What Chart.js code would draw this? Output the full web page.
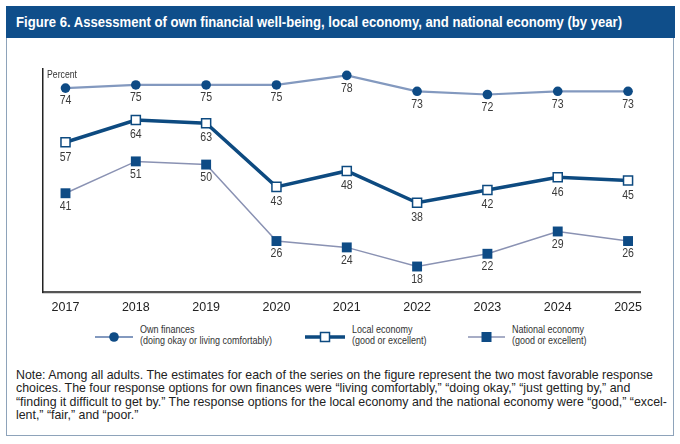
<!DOCTYPE html>
<html>
<head>
<meta charset="utf-8">
<script src="https://cdn.jsdelivr.net/npm/chart.js@4.4.1/dist/chart.umd.min.js"></script>
<style>
  html, body { margin: 0; padding: 0; background: #fff; }
  body { width: 680px; height: 444px; position: relative; overflow: hidden;
         font-family: "Liberation Sans", Arial, sans-serif; color: #222; }
  #frame { position: absolute; left: 6px; top: 6px; width: 666px; height: 428px;
           border: 1.5px solid #8ea3ba; }
  #title { position: absolute; left: 6px; top: 6px; width: 669px; height: 32px;
           background: #0f4e8a; }
  #titleText { position: absolute; left: 10px; top: 0; color: #fff; font-weight: bold;
               font-size: 15.5px; line-height: 32px; white-space: nowrap; transform-origin: left center; }
  #chartBox { position: absolute; left: 0; top: 0; width: 680px; height: 318px; }
  #percent { position: absolute; left: 47px; top: 69px; font-size: 11px; line-height: 11px;
             color: #333; white-space: nowrap; transform-origin: left top; }
  .leg { position: absolute; top: 323.5px; font-size: 11.5px; line-height: 11.8px; color: #333;
         white-space: nowrap; transform-origin: left top; }
  .sample { position: absolute; }
  #note { position: absolute; left: 16px; top: 368px; font-size: 13px; line-height: 13.4px;
          color: #222; white-space: nowrap; transform-origin: left top; }
</style>
</head>
<body>
<div id="frame"></div>
<div id="title"><span id="titleText">Figure 6. Assessment of own financial well-being, local economy, and national economy (by year)</span></div>
<div id="chartBox"><canvas id="trendChart"></canvas></div>
<div id="percent">Percent</div>

<canvas class="sample" id="s0" width="38" height="14" style="left:95px;top:330px"></canvas>
<div class="leg" id="leg0" style="left:139.5px">Own finances<br><span id="legRef">(doing okay or living comfortably)</span></div>
<canvas class="sample" id="s1" width="40" height="14" style="left:305px;top:330px"></canvas>
<div class="leg" id="leg1" style="left:352px">Local economy<br>(good or excellent)</div>
<canvas class="sample" id="s2" width="37" height="14" style="left:468px;top:330px"></canvas>
<div class="leg" id="leg2" style="left:511.5px">National economy<br>(good or excellent)</div>

<div id="note"><span id="noteRef">Note: Among all adults. The estimates for each of the series on the figure represent the two most favorable response</span><br>choices. The four response options for own finances were “living comfortably,” “doing okay,” “just getting by,” and<br>“finding it difficult to get by.” The response options for the local economy and the national economy were “good,” “excel-<br>lent,” “fair,” and “poor.”</div>

<script>
// years on the x axis
const years = [2017, 2018, 2019, 2020, 2021, 2022, 2023, 2024, 2025];

// percent values
const ownFinances = [74, 75, 75, 75, 78, 73, 72, 73, 73];
const localEconomy = [57, 64, 63, 43, 48, 38, 42, 46, 45];
const nationalEconomy = [41, 51, 50, 26, 24, 18, 22, 29, 26];

const seriesNames = [
  'Own finances (doing okay or living comfortably)',
  'Local economy (good or excellent)',
  'National economy (good or excellent)'
];

const DARK = '#0e4b85';
const FONT = '"Liberation Sans", Arial, sans-serif';

function toPoints(values) {
  return years.map((y, i) => ({ x: y, y: values[i] }));
}

// squeeze a text block so it has the width of the condensed original
function squeeze(el, measureEl, target) {
  const w = measureEl.getBoundingClientRect().width;
  el.style.transform = 'scaleX(' + (target / w) + ')';
}

// value labels under every point
const pointLabels = {
  id: 'pointLabels',
  afterDatasetsDraw(chart) {
    const ctx = chart.ctx;
    ctx.save();
    ctx.font = '12px ' + FONT;
    ctx.fillStyle = '#3a3a3a';
    ctx.textAlign = 'center';
    ctx.textBaseline = 'middle';
    chart.data.datasets.forEach((ds, di) => {
      const meta = chart.getDatasetMeta(di);
      const gap = di === 1 ? 15 : 13;
      meta.data.forEach((pt, i) => {
        ctx.save();
        ctx.translate(pt.x, pt.y + gap);
        ctx.scale(0.88, 1);
        ctx.fillText(String(ds.data[i].y), 0, 0);
        ctx.restore();
      });
    });
    ctx.restore();
  }
};

const ctx = document.getElementById('trendChart').getContext('2d');
new Chart(ctx, {
  type: 'line',
  data: {
    datasets: [
      {
        label: seriesNames[0],
        data: toPoints(ownFinances),
        borderColor: '#8399bf',
        borderWidth: 2.2,
        pointStyle: 'circle',
        pointRadius: 4.8,
        pointBackgroundColor: DARK,
        pointBorderColor: DARK,
        pointBorderWidth: 0
      },
      {
        label: seriesNames[1],
        data: toPoints(localEconomy),
        borderColor: '#0d4a80',
        borderWidth: 3.5,
        pointStyle: 'rect',
        pointRadius: 6.4,
        pointBackgroundColor: '#fff',
        pointBorderColor: '#0d4a80',
        pointBorderWidth: 1.5
      },
      {
        label: seriesNames[2],
        data: toPoints(nationalEconomy),
        borderColor: '#8a92b3',
        borderWidth: 1.5,
        pointStyle: 'rect',
        pointRadius: 7,
        pointBackgroundColor: DARK,
        pointBorderColor: DARK,
        pointBorderWidth: 0
      }
    ]
  },
  plugins: [pointLabels],
  options: {
    responsive: true,
    maintainAspectRatio: false,
    animation: false,
    clip: false,
    layout: { padding: { left: 43, top: 69, right: 40, bottom: 0 } },
    plugins: {
      legend: { display: false },
      title: { display: false },
      tooltip: { enabled: false }
    },
    scales: {
      x: {
        type: 'linear',
        min: 2016.68,
        max: 2025.17,
        afterBuildTicks: s => { s.ticks = years.map(v => ({ value: v })); },
        afterFit: s => { s.height = 26; },
        grid: { display: false, drawTicks: false },
        border: { display: true, color: '#555', width: 2.2 },
        ticks: {
          padding: 8,
          color: '#222',
          font: { family: FONT, size: 12.5 },
          callback: v => String(v)
        }
      },
      y: {
        min: 10,
        max: 80,
        afterFit: s => { s.width = 0; },
        grid: { display: false, drawTicks: false },
        border: { display: true, color: '#222', width: 1.5 },
        ticks: { display: false }
      }
    }
  }
});

// legend samples
function drawSample(id, lineColor, lineWidth, style, fill, stroke) {
  const c = document.getElementById(id).getContext('2d');
  const w = c.canvas.width, h = c.canvas.height, m = w / 2, cy = h / 2;
  c.strokeStyle = lineColor;
  c.lineWidth = lineWidth;
  c.beginPath(); c.moveTo(0, cy); c.lineTo(w, cy); c.stroke();
  if (style === 'circle') {
    c.fillStyle = fill;
    c.beginPath(); c.arc(m, cy, 4.8, 0, Math.PI * 2); c.fill();
  } else {
    const s = style === 'open' ? 4.5 : 5;
    c.fillStyle = fill;
    c.fillRect(m - s, cy - s, 2 * s, 2 * s);
    if (stroke) {
      c.strokeStyle = stroke; c.lineWidth = 1.5;
      c.strokeRect(m - s, cy - s, 2 * s, 2 * s);
    }
  }
}
drawSample('s0', '#8399bf', 2.2, 'circle', DARK);
drawSample('s1', '#0d4a80', 3.5, 'open', '#fff', '#0d4a80');
drawSample('s2', '#8a92b3', 1.5, 'solid', DARK);

// fit the html texts to the widths in the figure
const tt = document.getElementById('titleText');
squeeze(tt, tt, 606);
const pc = document.getElementById('percent');
squeeze(pc, pc, 30);
const legRef = document.getElementById('legRef');
const legW = legRef.getBoundingClientRect().width;
['leg0', 'leg1', 'leg2'].forEach(id => {
  document.getElementById(id).style.transform = 'scaleX(' + (132 / legW) + ')';
});
const note = document.getElementById('note');
squeeze(note, document.getElementById('noteRef'), 637);
</script>
</body>
</html>
